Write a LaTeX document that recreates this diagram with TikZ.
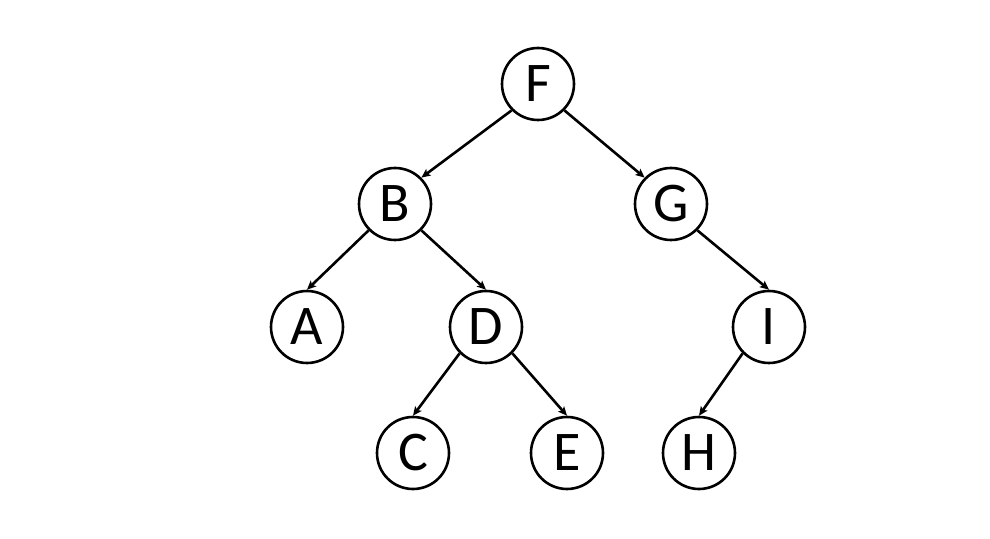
\documentclass[tikz,border=0pt]{standalone}
\usepackage{fontspec}
\setmainfont{Carlito}
\usetikzlibrary{arrows.meta}
\begin{document}
\begin{tikzpicture}[x=1pt,y=1pt,
  treenode/.style={circle,draw,line width=2.6pt,minimum size=72pt,inner sep=0pt,font=\fontsize{56}{60}\selectfont},
  edge/.style={line width=2.6pt,-{Stealth[length=9pt,width=8pt,inset=2pt]}}]
\useasboundingbox (0,0) rectangle (990,538);
\node[treenode] (F) at (538,454) {F};
\node[treenode] (B) at (395,334) {B};
\node[treenode] (G) at (671,334) {G};
\node[treenode] (A) at (307,211) {A};
\node[treenode] (D) at (486,211) {D};
\node[treenode] (I) at (769,211) {I};
\node[treenode] (C) at (413,85) {C};
\node[treenode] (E) at (567,85) {E};
\node[treenode] (H) at (699,85) {H};
\draw[edge] (F.south west) -- (B.north east);
\draw[edge] (F.south east) -- (G.north west);
\draw[edge] (B.south west) -- (A.north);
\draw[edge] (B.south east) -- (D.north);
\draw[edge] (G.south east) -- (I.north);
\draw[edge] (D.south west) -- (C.north);
\draw[edge] (D.south east) -- (E.north);
\draw[edge] (I.south west) -- (H.north);
\end{tikzpicture}
\end{document}
